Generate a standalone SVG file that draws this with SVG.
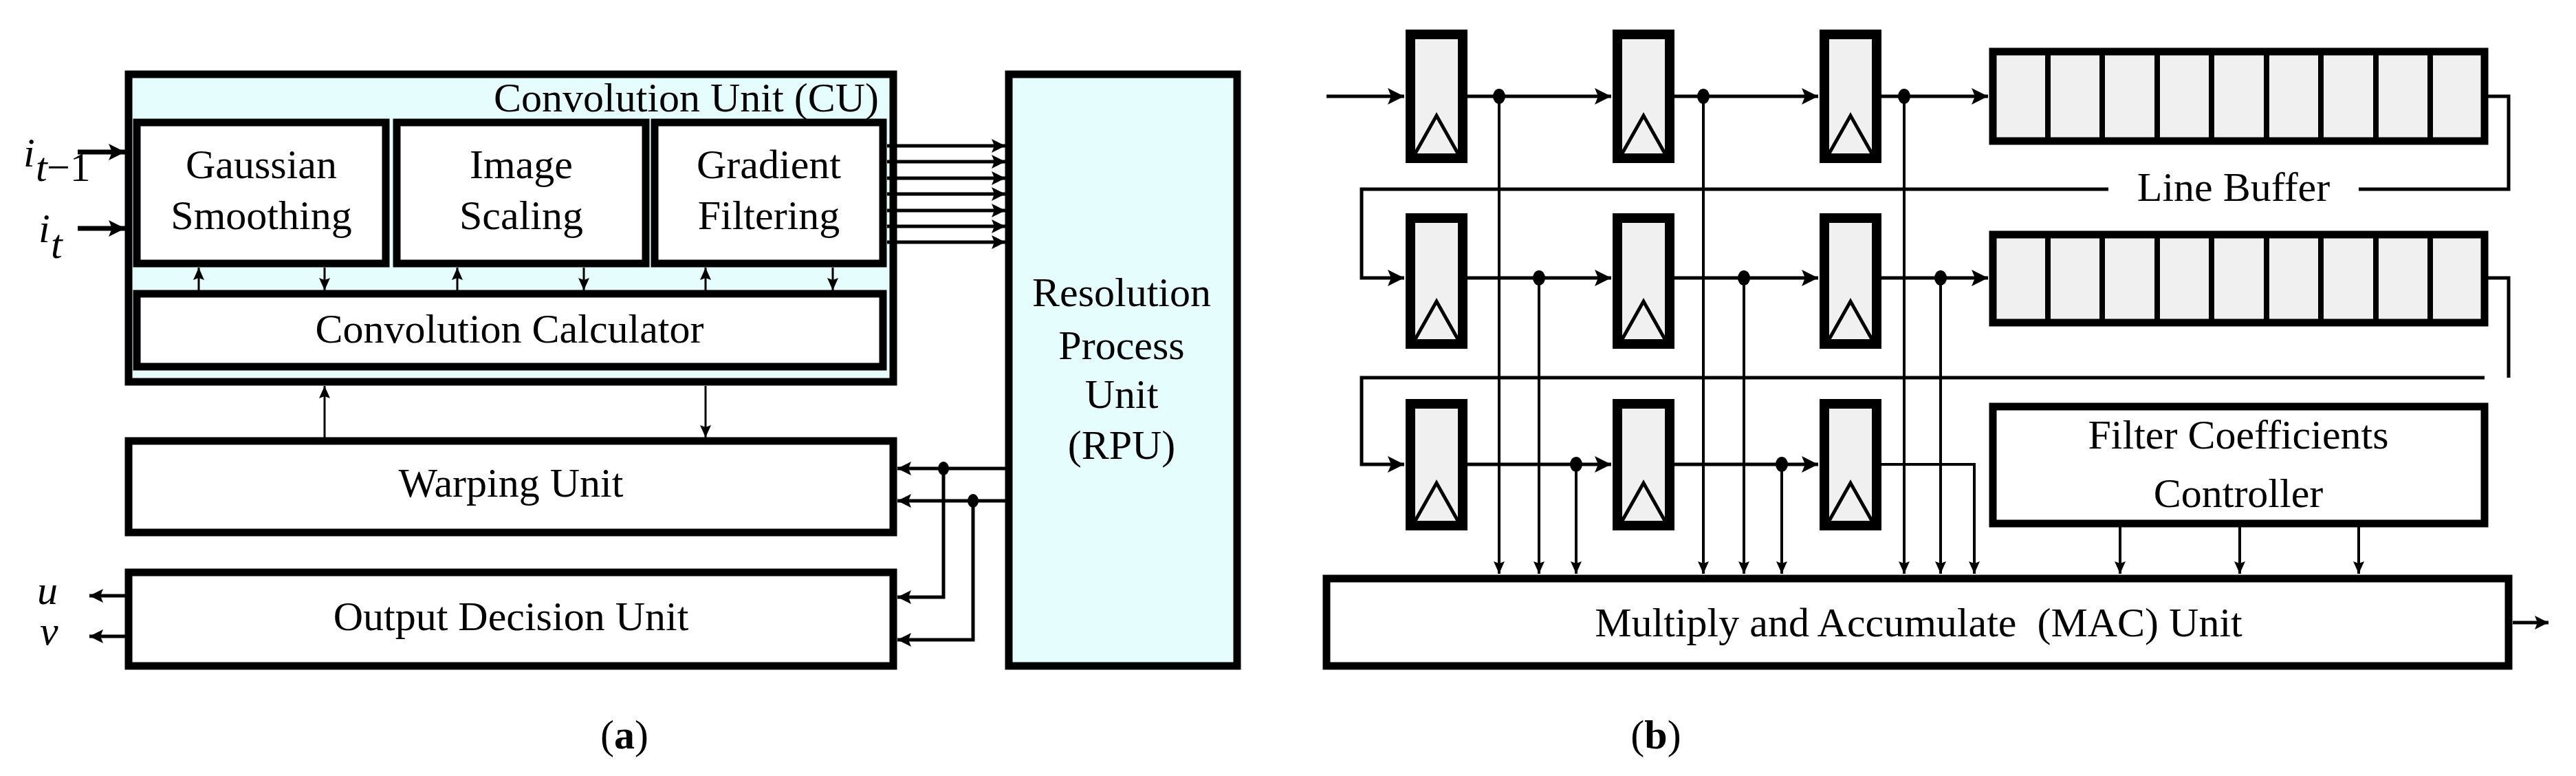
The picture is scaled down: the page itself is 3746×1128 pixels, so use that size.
<svg xmlns="http://www.w3.org/2000/svg" width="3746" height="1128" viewBox="0 0 3746 1128">
<style>
text{font-family:"Liberation Serif","Times New Roman",serif;font-size:60px;fill:#000}
.c{text-anchor:middle}
.box{fill:#fff;stroke:#000;stroke-width:11}
.cyan{fill:#e6fdfe;stroke:#000;stroke-width:11}
.reg{fill:#f0f0f0;stroke:#000;stroke-width:14}
.cell{fill:#f0f0f0;stroke:#000;stroke-width:11}
.w{fill:none;stroke:#000}
.t7{stroke-width:7}
.t5{stroke-width:5}
.t4{stroke-width:4}
.it{font-style:italic}
</style>
<defs>
<marker id="ah" markerUnits="userSpaceOnUse" markerWidth="26" markerHeight="26" refX="24" refY="12" orient="auto" viewBox="0 0 26 26"><path d="M0,0 L24,12 L0,24 L5,12 z" fill="#000"/></marker>
<marker id="am" markerUnits="userSpaceOnUse" markerWidth="22" markerHeight="22" refX="20" refY="10" orient="auto" viewBox="0 0 22 22"><path d="M0,0 L20,10 L0,20 L4,10 z" fill="#000"/></marker>
<marker id="as" markerUnits="userSpaceOnUse" markerWidth="20" markerHeight="18" refX="18" refY="8" orient="auto" viewBox="0 0 20 18"><path d="M0,0 L18,8 L0,16 L3,8 z" fill="#000"/></marker>
</defs>

<!-- Panel (a) -->
<g id="cu"><rect class="cyan" x="187" y="108" width="1112" height="447"/>
<text x="1278" y="162" text-anchor="end">Convolution Unit (CU)</text></g>
<g id="gauss"><rect class="box" x="199" y="178" width="362" height="205"/>
<text class="c" x="380" y="259">Gaussian</text><text class="c" x="380" y="333">Smoothing</text></g>
<g id="scaling"><rect class="box" x="577" y="178" width="362" height="205"/>
<text class="c" x="758" y="259">Image</text><text class="c" x="758" y="333">Scaling</text></g>
<g id="gradient"><rect class="box" x="952" y="178" width="332" height="205"/>
<text class="c" x="1118" y="259">Gradient</text><text class="c" x="1118" y="333">Filtering</text></g>
<g id="convcalc"><rect class="box" x="199" y="427" width="1085" height="106"/>
<text class="c" x="741" y="498">Convolution Calculator</text></g>
<g id="rpu"><rect class="cyan" x="1467" y="108" width="332" height="860"/>
<text class="c" x="1631" y="445">Resolution</text><text class="c" x="1631" y="522">Process</text><text class="c" x="1631" y="593">Unit</text><text class="c" x="1631" y="667">(RPU)</text></g>
<g id="warping"><rect class="box" x="187" y="641" width="1112" height="133"/>
<text class="c" x="743" y="722">Warping Unit</text></g>
<g id="odu"><rect class="box" x="187" y="832" width="1112" height="136"/>
<text class="c" x="743" y="916">Output Decision Unit</text></g>
<g id="labels-a">
<text class="it" x="34" y="242" font-size="72">i</text><text class="it" x="52" y="263" font-size="46">t</text><text x="68" y="263" font-size="46">−1</text>
<text class="it" x="56" y="352" font-size="72">i</text><text class="it" x="74" y="375" font-size="46">t</text>
<text class="it" x="54" y="878" font-size="66">u</text>
<text class="it" x="58" y="937" font-size="66">v</text>
<text class="c" x="908" y="1088">(<tspan font-weight="bold">a</tspan>)</text>
</g>

<g id="connectors-a">
<path class="w t7" d="M113,221H182" marker-end="url(#ah)"/>
<path class="w t7" d="M113,332H182" marker-end="url(#ah)"/>
<g class="w t5" marker-end="url(#am)">
<path d="M1290,212H1462"/><path d="M1290,235H1462"/><path d="M1290,259H1462"/><path d="M1290,282H1462"/><path d="M1290,306H1462"/><path d="M1290,329H1462"/><path d="M1290,352H1462"/>
</g>
<g class="w" stroke-width="3" marker-end="url(#as)">
<path d="M289,422V389"/><path d="M472,389V422"/>
<path d="M665,422V389"/><path d="M849,389V422"/>
<path d="M1026,422V389"/><path d="M1211,389V422"/>
<path d="M472,636V561"/><path d="M1026,561V636"/>
</g>
<g class="w t5" marker-end="url(#am)">
<path d="M1462,681H1305"/><path d="M1462,728H1305"/>
<path d="M1372,681V868H1305"/><path d="M1415,728V930H1305"/>
<path d="M182,866H130"/><path d="M182,925H130"/>
</g>
<ellipse cx="1372" cy="681" rx="8" ry="10"/><ellipse cx="1415" cy="728" rx="8" ry="10"/>
</g>

<!-- Panel (b) -->
<g id="regs">
<g id="r11"><rect class="reg" x="2051" y="50" width="76" height="180"/><path class="w t5" d="M2058,223L2089,168L2120,223"/></g>
<g id="r12"><rect class="reg" x="2352" y="50" width="76" height="180"/><path class="w t5" d="M2359,223L2390,168L2421,223"/></g>
<g id="r13"><rect class="reg" x="2653" y="50" width="76" height="180"/><path class="w t5" d="M2660,223L2691,168L2722,223"/></g>
<g id="r21"><rect class="reg" x="2051" y="317" width="76" height="183"/><path class="w t5" d="M2058,493L2089,438L2120,493"/></g>
<g id="r22"><rect class="reg" x="2352" y="317" width="76" height="183"/><path class="w t5" d="M2359,493L2390,438L2421,493"/></g>
<g id="r23"><rect class="reg" x="2653" y="317" width="76" height="183"/><path class="w t5" d="M2660,493L2691,438L2722,493"/></g>
<g id="r31"><rect class="reg" x="2051" y="587" width="76" height="177"/><path class="w t5" d="M2058,757L2089,702L2120,757"/></g>
<g id="r32"><rect class="reg" x="2352" y="587" width="76" height="177"/><path class="w t5" d="M2359,757L2390,702L2421,757"/></g>
<g id="r33"><rect class="reg" x="2653" y="587" width="76" height="177"/><path class="w t5" d="M2660,757L2691,702L2722,757"/></g>
</g>
<g id="linebuf1"><rect class="cell" x="2898" y="75" width="715" height="130"/>
<path class="w" stroke-width="8" d="M2978,75V205M3057,75V205M3137,75V205M3216,75V205M3296,75V205M3375,75V205M3455,75V205M3534,75V205"/></g>
<g id="linebuf2"><rect class="cell" x="2898" y="341" width="715" height="128"/>
<path class="w" stroke-width="8" d="M2978,341V469M3057,341V469M3137,341V469M3216,341V469M3296,341V469M3375,341V469M3455,341V469M3534,341V469"/></g>
<g id="filter"><rect class="box" x="2898" y="591" width="715" height="170"/>
<text class="c" x="3255" y="652">Filter Coefficients</text><text class="c" x="3255" y="737">Controller</text></g>
<g id="mac"><rect class="box" x="1929" y="841" width="1719" height="127"/>
<text class="c" x="2790" y="925" xml:space="preserve">Multiply and Accumulate  (MAC) Unit</text></g>
<g id="labels-b">
<text class="c" x="3248" y="292">Line Buffer</text>
<text class="c" x="2408" y="1088">(<tspan font-weight="bold">b</tspan>)</text>
</g>

<g id="connectors-b">
<g class="w t5" marker-end="url(#ah)">
<path d="M1929,140H2042"/><path d="M2134,140H2343"/><path d="M2435,140H2644"/><path d="M2736,140H2891"/>
<path d="M3066,275H1980V404H2042"/><path d="M2134,404H2343"/><path d="M2435,404H2644"/><path d="M2736,404H2891"/>
<path d="M3613,549H1980V675H2042"/><path d="M2134,675H2343"/><path d="M2435,675H2644"/>
</g>
<path class="w t5" d="M3613,140H3648V275H3430"/>
<path class="w t5" d="M3613,404H3648V549"/>
<g class="w t4" marker-end="url(#as)">
<path d="M2180,140V834"/><path d="M2238,404V834"/><path d="M2292,675V834"/>
<path d="M2477,140V834"/><path d="M2536,404V834"/><path d="M2591,675V834"/>
<path d="M2769,140V834"/><path d="M2822,404V834"/><path d="M2736,675H2871V834"/>
<path d="M3083,766V834"/><path d="M3257,766V834"/><path d="M3430,766V834"/>
</g>
<path class="w t5" d="M3654,905H3706" marker-end="url(#am)"/>
<g>
<ellipse cx="2180" cy="140" rx="9" ry="11"/><ellipse cx="2477" cy="140" rx="9" ry="11"/><ellipse cx="2769" cy="140" rx="9" ry="11"/>
<ellipse cx="2238" cy="404" rx="9" ry="11"/><ellipse cx="2536" cy="404" rx="9" ry="11"/><ellipse cx="2822" cy="404" rx="9" ry="11"/>
<ellipse cx="2292" cy="675" rx="9" ry="11"/><ellipse cx="2591" cy="675" rx="9" ry="11"/>
</g>
</g>
</svg>
